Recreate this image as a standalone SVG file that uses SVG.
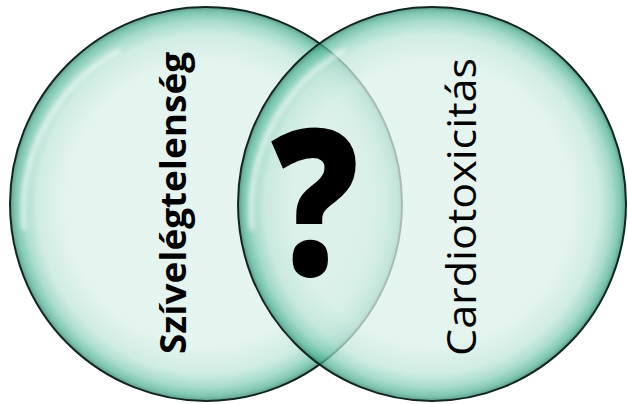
<svg xmlns="http://www.w3.org/2000/svg" width="628" height="404" viewBox="0 0 628 404">
  <defs>
    <radialGradient id="g" cx="50%" cy="50%" r="50%">
      <stop offset="0%" stop-color="#def1eb"/>
      <stop offset="72%" stop-color="#daf0e9"/>
      <stop offset="86%" stop-color="#c0e6da"/>
      <stop offset="93%" stop-color="#8ad0bb"/>
      <stop offset="97.5%" stop-color="#50b296"/>
      <stop offset="100%" stop-color="#2b7a64"/>
    </radialGradient>
    <filter id="blur" x="-10%" y="-10%" width="120%" height="120%">
      <feGaussianBlur stdDeviation="2.5"/>
    </filter>
    <style>
      .bub { fill: url(#g); fill-opacity: 0.74; stroke: #10261f; stroke-width: 2; }
      .hl { fill: none; stroke: #ffffff; stroke-width: 4; stroke-opacity: 0.75; filter: url(#blur); }
      .lbl { font-family: "Open Sans", "Noto Sans", sans-serif; fill: #000; }
    </style>
  </defs>
  <rect width="628" height="404" fill="#ffffff"/>
  <g id="left-circle">
    <ellipse class="bub" cx="206" cy="204" rx="196" ry="197"/>
    <path class="hl" d="M 24 230 A 182 184 0 0 1 120 50"/>
  </g>
  <g id="right-circle">
    <ellipse class="bub" cx="432" cy="204" rx="194" ry="197"/>
    <path class="hl" d="M 252 230 A 180 184 0 0 1 345 50"/>
  </g>
  <g id="label-left">
    <text class="lbl" font-weight="bold" font-size="36" text-anchor="middle" textLength="302" lengthAdjust="spacingAndGlyphs" transform="translate(186 203) rotate(-90)">Szívelégtelenség</text>
  </g>
  <g id="label-right">
    <text class="lbl" font-size="40" text-anchor="middle" textLength="298" lengthAdjust="spacingAndGlyphs" transform="translate(476 207) rotate(-90)">Cardiotoxicitás</text>
  </g>
  <g id="intersection">
    <text class="lbl" font-weight="800" font-size="204" text-anchor="middle" transform="translate(315 276) scale(0.85 1)">?</text>
  </g>
  <g id="connectors"/>
</svg>
